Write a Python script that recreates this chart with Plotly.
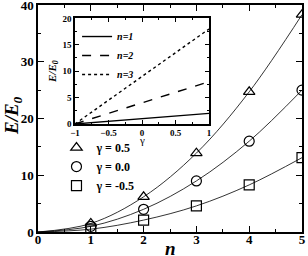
import plotly.graph_objects as go

n_vals = [1, 2, 3, 4, 5]
E_g05 = [1.5, 6.2, 13.9, 24.7, 38.3]
E_g00 = [1.0, 4.0, 9.0, 16.0, 25.0]
E_gm05 = [0.5, 2.1, 4.6, 8.3, 13.1]
curve_n = [0] + n_vals

gamma_vals = [-1, 1]
inset_n1 = [0, 2]
inset_n2 = [0, 8]
inset_n3 = [0, 18]

FONT = "Liberation Serif"
fig = go.Figure()

for ys in (E_g05, E_g00, E_gm05):
    fig.add_trace(go.Scatter(x=curve_n, y=[0] + ys, mode="lines", line=dict(color="black", width=0.8, shape="spline"),
                             showlegend=False, hoverinfo="skip"))

for ys, sym, name in ((E_g05, "triangle-up-open", "γ = 0.5"), (E_g00, "circle-open", "γ = 0.0"),
                      (E_gm05, "square-open", "γ = -0.5")):
    fig.add_trace(go.Scatter(x=n_vals, y=ys, mode="markers", name=name,
                             marker=dict(symbol=sym, size=10, color="black", line=dict(width=1.2, color="black")),
                             legend="legend"))

for ys, dash, name in ((inset_n1, "solid", "n=1"), (inset_n2, "dash", "n=2"), (inset_n3, "dot", "n=3")):
    fig.add_trace(go.Scatter(x=gamma_vals, y=ys, mode="lines", name=name, xaxis="x2", yaxis="y2",
                             line=dict(color="black", width=1.4, dash=dash), legend="legend2"))

ax_common = dict(showline=True, linecolor="black", linewidth=1.5, mirror="ticks", ticks="inside",
                 tickcolor="black", showgrid=False, zeroline=False, automargin=False,
                 ticklabeloverflow="allow")

fig.update_layout(
    width=308, height=256, margin=dict(l=38, r=6, t=5, b=24),
    paper_bgcolor="white", plot_bgcolor="white",
    font=dict(family=FONT, color="black"),
    xaxis=dict(range=[0, 5], dtick=1, ticklen=6, tickwidth=1.2, ticklabelstandoff=-5,
               minor=dict(dtick=0.5, ticks="inside", ticklen=3, tickcolor="black"),
               tickfont=dict(family=FONT, size=13, weight="bold"), **ax_common),
    yaxis=dict(range=[0, 40], dtick=10, ticklen=6, tickwidth=1.2,
               minor=dict(dtick=5, ticks="inside", ticklen=3, tickcolor="black"),
               tickfont=dict(family=FONT, size=13, weight="bold"), **ax_common),
    xaxis2=dict(domain=[0.140, 0.648], anchor="y2", range=[-1, 1], dtick=0.5, ticklen=4, tickwidth=1,
                minor=dict(dtick=0.25, ticks="inside", ticklen=2, tickcolor="black"),
                tickfont=dict(family=FONT, size=9, weight="bold"), **ax_common),
    yaxis2=dict(domain=[0.476, 0.941], anchor="x2", range=[0, 20], dtick=5, ticklen=4, tickwidth=1,
                minor=dict(dtick=2.5, ticks="inside", ticklen=2, tickcolor="black"),
                tickfont=dict(family=FONT, size=9, weight="bold"), **ax_common),
    legend=dict(x=0.07, y=0.436, xanchor="left", yanchor="top", bgcolor="rgba(0,0,0,0)",
                font=dict(family=FONT, size=12, weight="bold"), itemwidth=30, tracegroupgap=0),
    legend2=dict(x=0.148, y=0.925, xanchor="left", yanchor="top", bgcolor="rgba(0,0,0,0)",
                 font=dict(family=FONT, size=10, weight="bold", style="italic"), itemwidth=30, tracegroupgap=0),
    annotations=[
        dict(text="<b><i>n</i></b>", xref="paper", yref="paper", x=0.5, y=-0.072, xanchor="center", yanchor="middle",
             showarrow=False, font=dict(family=FONT, size=19)),
        dict(text="<b><i>E/E<sub>0</sub></i></b>", xref="paper", yref="paper", x=-0.095, y=0.515, textangle=-90,
             xanchor="center", yanchor="middle", showarrow=False, font=dict(family=FONT, size=19)),
        dict(text="γ", xref="paper", yref="paper", x=0.394, y=0.405, xanchor="center", yanchor="middle",
             showarrow=False, font=dict(family=FONT, size=11)),
        dict(text="<b><i>E/E<sub>0</sub></i></b>", xref="paper", yref="paper", x=0.057, y=0.705, textangle=-90,
             xanchor="center", yanchor="middle", showarrow=False, font=dict(family=FONT, size=11)),
    ],
)
fig.write_html("out.html", config={"displayModeBar": False}, post_script="document.body.style.margin='0';")
